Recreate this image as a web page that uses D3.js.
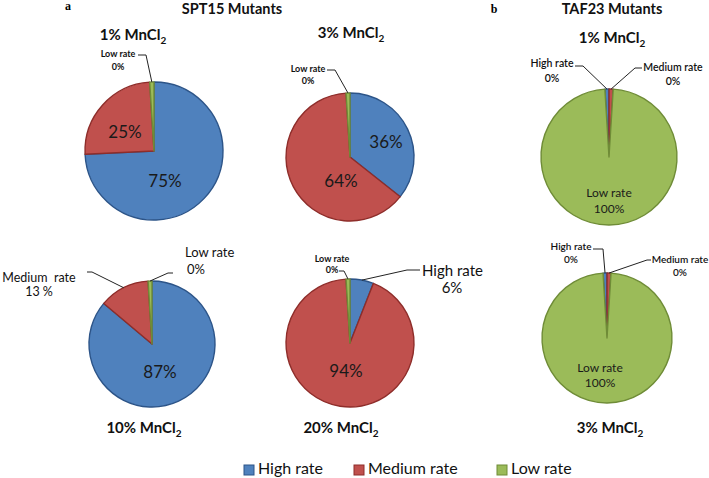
<!DOCTYPE html>
<html>
<head>
<meta charset="utf-8">
<script src="https://cdn.jsdelivr.net/npm/d3@7"></script>
<style>
  body { margin: 0; background: #fff; }
  svg { display: block; }
</style>
</head>
<body>
<div id="chart"></div>
<script>
// ---- data ----
const categories = ["High rate", "Medium rate", "Low rate"];
const groupTitles = ["SPT15 Mutants", "TAF23 Mutants"];
const panelLetters = ["a", "b"];
const concentrations = ["1%", "3%", "10%", "20%", "1%", "3%"];

// slice sizes as drawn (0% slices are shown as thin slivers)
const highValues = [75, 36, 87, 6, 1, 1];
const mediumValues = [25, 64, 13, 94, 1, 1];
const lowValues = [1, 1, 1, 1, 100, 100];

const highLabels = ["75%", "36%", "87%", "6%", "0%", "0%"];
const mediumLabels = ["25%", "64%", "13 %", "94%", "0%", "0%"];
const lowLabels = ["0%", "0%", "0%", "0%", "100%", "100%"];

// ---- layout ----
const width = 709, height = 478;
const fontFamily = "Lato, 'Open Sans', sans-serif";

const pies = [
  { cx: 154, cy: 151, r: 69, rot: 0,    tx: 133, ty: 40 },
  { cx: 350, cy: 157, r: 64, rot: 0,    tx: 351, ty: 38 },
  { cx: 152, cy: 344, r: 63, rot: 0,    tx: 144, ty: 433 },
  { cx: 350, cy: 343, r: 64, rot: 0,    tx: 341, ty: 433 },
  { cx: 609, cy: 157, r: 68, rot: -3.5, tx: 612, ty: 43 },
  { cx: 607, cy: 338, r: 65, rot: -3.5, tx: 610, ty: 433 }
];

// labels drawn on slices: pie index, category index, position
const insideLabels = [
  { p: 0, c: 1, x: 125, y: 138, size: 17 },
  { p: 0, c: 0, x: 165, y: 187, size: 17 },
  { p: 1, c: 0, x: 386, y: 148, size: 17 },
  { p: 1, c: 1, x: 341, y: 187, size: 17 },
  { p: 2, c: 0, x: 160, y: 378, size: 17 },
  { p: 3, c: 1, x: 346, y: 377, size: 17 },
  { p: 4, c: 2, x: 609, y: 197, size: 12, name: true, gap: 16 },
  { p: 5, c: 2, x: 600, y: 372, size: 12, name: true, gap: 15 }
];

// labels outside with leader lines
const outsideLabels = [
  { p: 0, c: 2, x: 118, y: 57, gap: 13, size: 9, weight: 700, anchor: "middle", line: [[138, 55], [146, 55]] },
  { p: 1, c: 2, x: 308, y: 72, gap: 12, size: 9, weight: 700, anchor: "middle", line: [[327, 70], [335, 70]] },
  { p: 2, c: 1, x: 39, y: 282, gap: 13.5, size: 12.5, weight: 400, anchor: "middle", text: "Medium\u00a0\u00a0rate", line: [[87, 272], [92, 272]] },
  { p: 2, c: 2, x: 185, y: 257, gap: 17, size: 13, weight: 400, anchor: "start", dx2: 2, line: [[173, 273], [168, 273]] },
  { p: 3, c: 2, x: 332, y: 262, gap: 11, size: 9, weight: 700, anchor: "middle", line: [[339, 271], [344, 271]] },
  { p: 3, c: 0, x: 422, y: 276, gap: 17, size: 15, weight: 400, anchor: "start", dx2: 30, anchor2: "middle", line: [[420, 270], [407, 270]] },
  { p: 4, c: 0, x: 552, y: 67, gap: 15, size: 10.5, weight: 600, anchor: "middle", line: [[575, 66], [583, 66]] },
  { p: 4, c: 1, x: 673, y: 71, gap: 14, size: 10.5, weight: 600, anchor: "middle", line: [[642, 68], [635, 68]] },
  { p: 5, c: 0, x: 571, y: 250, gap: 13, size: 10, weight: 600, anchor: "middle", line: [[593, 249], [603, 249]] },
  { p: 5, c: 1, x: 680, y: 263, gap: 13, size: 10, weight: 600, anchor: "middle", line: [[651, 260], [647, 260]] }
];

const color = d3.scaleOrdinal().domain(categories).range(["#4f81bd", "#c0504d", "#9bbb59"]);
const edge = d3.scaleOrdinal().domain(categories).range(["#2c5488", "#8e2d2a", "#6f8c37"]);

const seriesValues = [highValues, mediumValues, lowValues];
const seriesLabels = [highLabels, mediumLabels, lowLabels];

const svg = d3.select("#chart").append("svg")
  .attr("width", width)
  .attr("height", height)
  .style("font-family", fontFamily);

// panel letters and group titles
svg.selectAll("text.letter")
  .data(panelLetters)
  .join("text")
  .attr("class", "letter")
  .attr("x", (d, i) => [68, 494][i])
  .attr("y", (d, i) => [10, 13][i])
  .attr("text-anchor", "middle")
  .style("font-family", "'Liberation Serif', 'DejaVu Serif', serif")
  .style("font-weight", 700)
  .style("font-size", "12px")
  .text(d => d);

svg.selectAll("text.group")
  .data(groupTitles)
  .join("text")
  .attr("class", "group")
  .attr("x", (d, i) => [232, 612][i])
  .attr("y", 14)
  .attr("text-anchor", "middle")
  .style("font-weight", 700)
  .style("font-size", "14.5px")
  .attr("fill", "#111")
  .text(d => d);

const pieGen = d3.pie().sort(null).value(d => d.value);
const arcs = pies.map((p, i) => {
  const rot = p.rot * Math.PI / 180;
  const data = categories.map((c, k) => ({ cat: c, value: seriesValues[k][i] }));
  return pieGen.startAngle(rot).endAngle(rot + 2 * Math.PI)(data);
});

pies.forEach((p, i) => {
  const g = svg.append("g").attr("transform", `translate(${p.cx},${p.cy})`);
  const arc = d3.arc().innerRadius(0).outerRadius(p.r);
  g.selectAll("path")
    .data(arcs[i])
    .join("path")
    .attr("d", arc)
    .attr("fill", d => color(d.data.cat))
    .attr("stroke", d => edge(d.data.cat))
    .attr("stroke-width", 1.4)
    .attr("stroke-linejoin", "round");

  // concentration title with subscript
  const t = svg.append("text")
    .attr("x", p.tx)
    .attr("y", p.ty)
    .attr("text-anchor", "middle")
    .style("font-weight", 700)
    .style("font-size", "15px")
    .attr("fill", "#111");
  t.append("tspan").text(concentrations[i] + " MnCl");
  t.append("tspan").attr("dy", 4).style("font-size", "10px").text("2");
});

// labels on slices
insideLabels.forEach(l => {
  const txt = seriesLabels[l.c][l.p];
  const lines = l.name ? [categories[l.c], txt] : [txt];
  lines.forEach((s, j) => {
    svg.append("text")
      .attr("x", l.x).attr("y", l.y + j * (l.gap || 0))
      .attr("text-anchor", "middle")
      .style("font-size", l.size + "px")
      .attr("fill", "#1a1a1a")
      .text(s);
  });
});

// outside labels with leader lines ending at the slice's outer edge
outsideLabels.forEach(l => {
  const p = pies[l.p];
  const a = arcs[l.p][l.c];
  const mid = (a.startAngle + a.endAngle) / 2;
  const end = [p.cx + p.r * Math.sin(mid), p.cy - p.r * Math.cos(mid)];
  svg.append("path")
    .attr("d", d3.line()(l.line.concat([end])))
    .attr("fill", "none")
    .attr("stroke", "#222")
    .attr("stroke-width", 1);

  svg.append("text")
    .attr("x", l.x).attr("y", l.y)
    .attr("text-anchor", l.anchor)
    .style("font-size", l.size + "px")
    .style("font-weight", l.weight)
    .attr("fill", "#111")
    .text(l.text || categories[l.c]);
  svg.append("text")
    .attr("x", l.x + (l.dx2 || 0)).attr("y", l.y + l.gap)
    .attr("text-anchor", l.anchor2 || l.anchor)
    .style("font-size", l.size + "px")
    .style("font-weight", l.weight)
    .attr("fill", "#111")
    .text(seriesLabels[l.c][l.p]);
});

// legend
const legendX = [244, 354, 497];
const legend = svg.selectAll("g.legend")
  .data(categories)
  .join("g")
  .attr("class", "legend")
  .attr("transform", (d, i) => `translate(${legendX[i]},465)`);
legend.append("rect")
  .attr("width", 10).attr("height", 10)
  .attr("fill", d => color(d))
  .attr("stroke", d => edge(d))
  .attr("stroke-width", 1);
legend.append("text")
  .attr("x", 14).attr("y", 9)
  .style("font-size", "16px")
  .attr("fill", "#111")
  .text(d => d);
</script>
</body>
</html>
